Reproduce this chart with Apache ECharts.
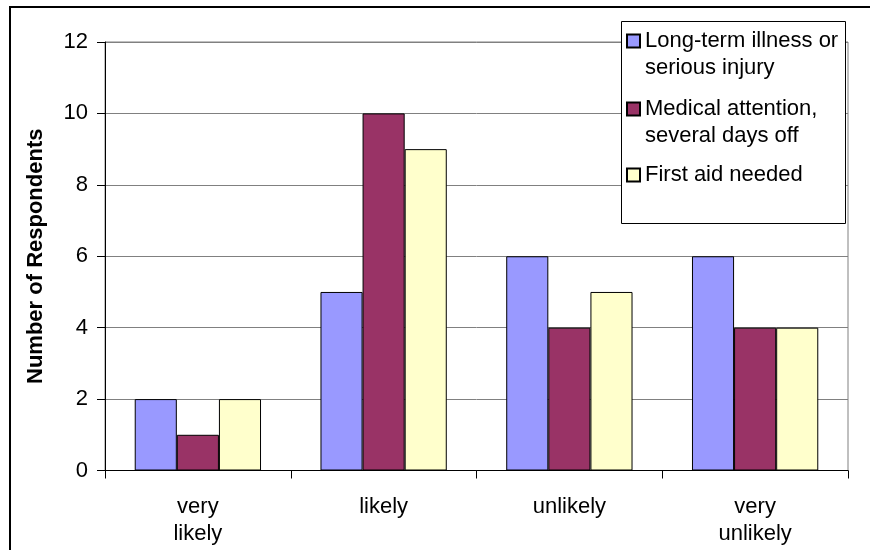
<!DOCTYPE html>
<html>
<head>
<meta charset="utf-8">
<script src="https://cdn.jsdelivr.net/npm/echarts@6/dist/echarts.min.js"></script>
<style>
  html, body { margin: 0; padding: 0; background: #fff; }
  #chart { width: 870px; height: 550px; }
</style>
</head>
<body>
<div id="chart"></div>
<script>
// Likelihood categories along the x axis
const categories = ['very\nlikely', 'likely', 'unlikely', 'very\nunlikely'];

// Severity series (number of respondents per likelihood)
const seriesNames = [
  'Long-term illness or\nserious injury',
  'Medical attention,\nseveral days off',
  'First aid needed'
];
const longTermIllness = [2, 5, 6, 6];
const medicalAttention = [1, 10, 4, 4];
const firstAid = [2, 9, 5, 4];

const yTicks = { min: 0, max: 12, interval: 2 };
const yAxisTitle = 'Number of Respondents';

const colors = ['#9999FF', '#993366', '#FFFFCC'];
const FONT = "'Liberation Sans', Arial, sans-serif";

const chart = echarts.init(document.getElementById('chart'), null, { renderer: 'canvas' });

const values = [longTermIllness, medicalAttention, firstAid];

// one legend block per series so each entry sits at its own row;
// two-line names get an empty leading line so the marker lines up with the first line
const legendTops = [0.5, 68.5, 161.5];
const legends = seriesNames.map((name, i) => {
  const twoLines = name.indexOf('\n') >= 0;
  return {
    left: 626,
    top: legendTops[i],
    padding: 0,
    z: 20,
    itemWidth: 13,
    itemHeight: 13,
    itemGap: 0,
    selectedMode: false,
    icon: 'rect',
    data: [name],
    formatter: n => (twoLines ? '\n' + n : n),
    textStyle: {
      fontFamily: FONT,
      fontSize: 22,
      color: '#000',
      lineHeight: 27
    }
  };
});

chart.setOption({
  animation: false,
  backgroundColor: '#fff',
  textStyle: { fontFamily: FONT },
  grid: {
    left: 105, right: 22, top: 42, bottom: 79.5,
    show: true, borderColor: '#808080', borderWidth: 1
  },
  legend: legends,
  graphic: [
    {
      type: 'rect', z: 100, silent: true,
      shape: { x: 10, y: 7, width: 900, height: 600 },
      style: { fill: null, stroke: '#000', lineWidth: 2 }
    },
    {
      type: 'rect', z: 1, silent: true,
      shape: { x: 621.5, y: 21.5, width: 224, height: 202 },
      style: { fill: '#fff', stroke: '#000', lineWidth: 1 }
    }
  ],
  xAxis: {
    type: 'category',
    data: categories,
    axisLine: { lineStyle: { color: '#000', width: 1 } },
    axisTick: { show: true, length: 8, alignWithLabel: false, lineStyle: { color: '#000' } },
    axisLabel: {
      color: '#000', fontSize: 22, lineHeight: 27, margin: 23,
      fontFamily: FONT, interval: 0
    },
    splitLine: { show: false }
  },
  yAxis: {
    type: 'value',
    min: yTicks.min, max: yTicks.max, interval: yTicks.interval,
    name: yAxisTitle,
    nameLocation: 'middle',
    nameGap: 58,
    nameTextStyle: { color: '#000', fontSize: 22, fontWeight: 'bold', fontFamily: FONT },
    axisLine: { show: true, lineStyle: { color: '#000', width: 1 } },
    axisTick: { show: true, length: 8, lineStyle: { color: '#000' } },
    axisLabel: { color: '#000', fontSize: 22, margin: 17, fontFamily: FONT },
    splitLine: { show: true, lineStyle: { color: '#808080', width: 1 } }
  },
  series: seriesNames.map((name, i) => ({
    name: name,
    type: 'bar',
    data: values[i],
    barGap: '0%',
    barCategoryGap: '32%',
    itemStyle: { color: colors[i], borderColor: '#000', borderWidth: 1 }
  }))
});
</script>
</body>
</html>
